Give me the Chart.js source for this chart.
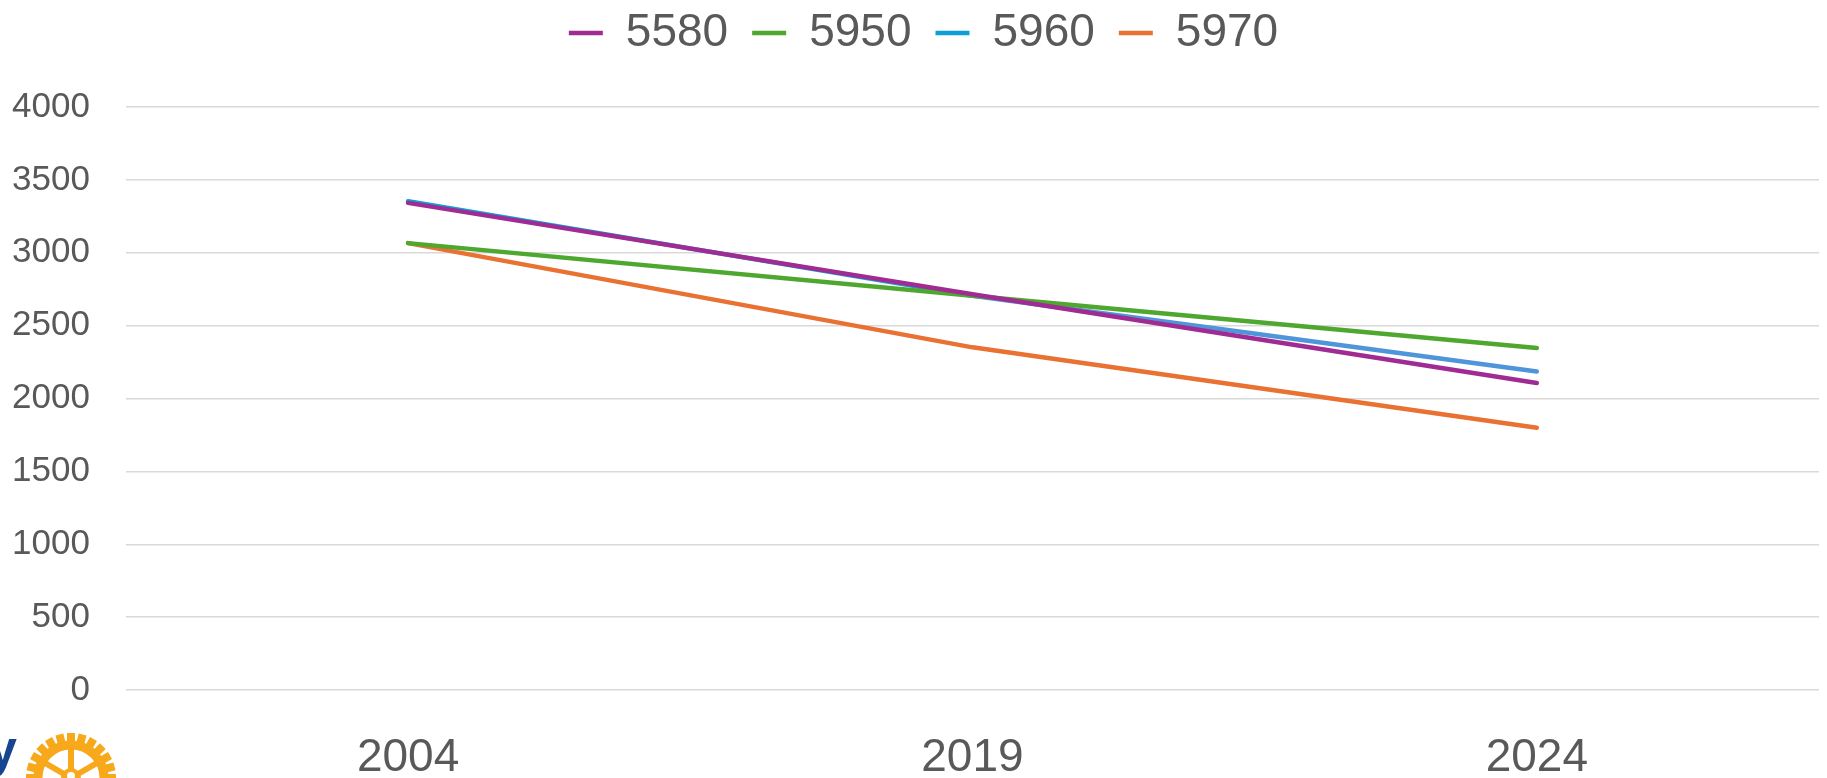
<!DOCTYPE html>
<html>
<head>
<meta charset="utf-8">
<script src="https://cdn.jsdelivr.net/npm/chart.js@4.4.1/dist/chart.umd.min.js"></script>
<style>
  html, body { margin: 0; padding: 0; background: #fff; }
  #wrap { width: 1827px; height: 778px; position: relative; }
</style>
</head>
<body>
<div id="wrap"><canvas id="myChart"></canvas></div>
<script>
// data
const years = ['2004', '2019', '2024'];
const seriesNames = ['5580', '5950', '5960', '5970'];
const values5580 = [3342, 2715, 2107];
const values5950 = [3066, 2705, 2347];
const values5960 = [3354, 2705, 2185];
const values5970 = [3066, 2351, 1799];
const yMin = 0;
const yMax = 4000;
const yStep = 500;

const seriesColors = ['#A02B93', '#4EA72E', '#0F9ED5', '#E97132'];
const textColor = '#595959';

// legend sits a bit right of centre, with a gap under it
const legendPlacePlugin = {
    id: 'legendPlace',
    beforeInit(chart) {
        const legend = chart.legend;
        const origFit = legend.fit;
        legend.fit = function () {
            origFit.bind(legend)();
            this.height += 41;
        };
    },
    afterLayout(chart) {
        chart.legend.left += 26;
        chart.legend.right += 26;
    }
};

// the rotary wheel cut off in the bottom left corner of the slide
const logoPlugin = {
    id: 'logo',
    afterDraw(chart) {
        const c = chart.ctx;
        const cx = 71, cy = 778;
        c.save();
        c.fillStyle = '#F7A81B';
        c.strokeStyle = '#F7A81B';
        for (let i = 0; i < 24; i++) {
            const a = i * Math.PI * 2 / 24;
            c.save();
            c.translate(cx, cy);
            c.rotate(a);
            c.fillRect(-4, -45, 8, 12);
            c.restore();
        }
        c.lineWidth = 9;
        c.beginPath();
        c.arc(cx, cy, 33, 0, Math.PI * 2);
        c.stroke();
        c.lineWidth = 6;
        for (let i = 0; i < 6; i++) {
            const a = -Math.PI / 2 + i * Math.PI / 3;
            c.beginPath();
            c.moveTo(cx + Math.cos(a) * 8, cy + Math.sin(a) * 8);
            c.lineTo(cx + Math.cos(a) * 30, cy + Math.sin(a) * 30);
            c.stroke();
        }
        c.beginPath();
        c.arc(cx, cy, 10, 0, Math.PI * 2);
        c.fill();
        c.fillStyle = '#fff';
        c.beginPath();
        c.arc(cx, cy - 2, 4, 0, Math.PI * 2);
        c.fill();
        c.fillStyle = '#17458F';
        c.font = 'bold 52px "Liberation Sans"';
        c.textBaseline = 'alphabetic';
        c.fillText('y', -12, 766);
        c.restore();
    }
};

const ctx = document.getElementById('myChart');

new Chart(ctx, {
    type: 'line',
    data: {
        labels: years,
        datasets: [
            { label: seriesNames[0], data: values5580, borderColor: seriesColors[0], backgroundColor: seriesColors[0] },
            { label: seriesNames[1], data: values5950, borderColor: seriesColors[1], backgroundColor: seriesColors[1] },
            {
                label: seriesNames[2], data: values5960, borderColor: seriesColors[2], backgroundColor: seriesColors[2],
                segment: { borderColor: s => s.p0DataIndex === 1 ? '#4E95D9' : undefined }
            },
            { label: seriesNames[3], data: values5970, borderColor: seriesColors[3], backgroundColor: seriesColors[3] }
        ].map(ds => Object.assign(ds, {
            borderWidth: 4.5,
            borderCapStyle: 'round',
            borderJoinStyle: 'round',
            pointRadius: 0,
            pointHoverRadius: 0,
            tension: 0,
            fill: false
        }))
    },
    options: {
        responsive: true,
        maintainAspectRatio: false,
        animation: false,
        layout: {
            padding: { left: -24, right: 8, top: -14, bottom: -48 }
        },
        plugins: {
            tooltip: { enabled: false },
            legend: {
                position: 'top',
                labels: {
                    usePointStyle: true,
                    pointStyle: 'line',
                    pointStyleWidth: 34,
                    padding: 24,
                    color: textColor,
                    font: { family: '"Liberation Sans", Arial, sans-serif', size: 46 }
                }
            }
        },
        scales: {
            x: {
                offset: true,
                grid: { display: false, drawTicks: false },
                border: { display: false },
                ticks: {
                    color: textColor,
                    padding: 45,
                    font: { family: '"Liberation Sans", Arial, sans-serif', size: 46, lineHeight: 1 }
                }
            },
            y: {
                min: yMin,
                max: yMax,
                grid: { color: '#D9D9D9', lineWidth: 1.5, drawTicks: false },
                border: { display: false },
                ticks: {
                    stepSize: yStep,
                    padding: 36,
                    color: textColor,
                    font: { family: '"Liberation Sans", Arial, sans-serif', size: 35 },
                    callback: value => String(value)
                }
            }
        }
    },
    plugins: [legendPlacePlugin, logoPlugin]
});
</script>
</body>
</html>
